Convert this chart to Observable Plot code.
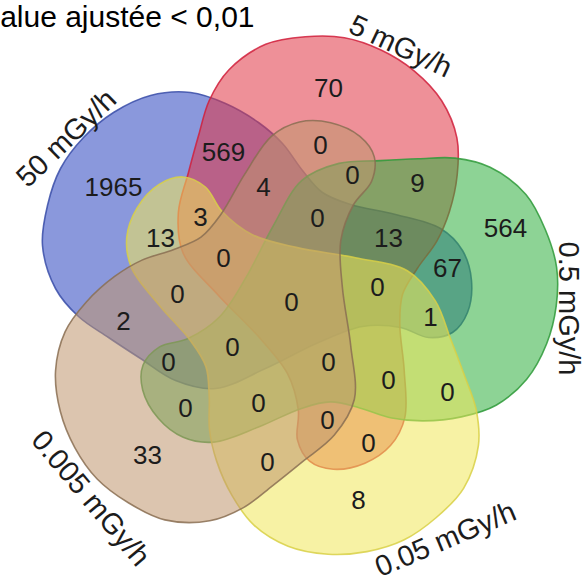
<!DOCTYPE html>
<html><head><meta charset="utf-8">
<script src="https://cdn.jsdelivr.net/npm/d3@7"></script>
<script src="https://cdn.jsdelivr.net/npm/@observablehq/plot@0.6"></script>
<style>body{margin:0;background:#fff;overflow:hidden;}</style>
</head><body><div id="chart"></div>
<script>
// ---- data ----
const title = "alue ajustée < 0,01";
const setNames = ["50 mGy/h", "5 mGy/h", "0.5 mGy/h", "0.05 mGy/h", "0.005 mGy/h"];
const setFills = ["#2a44c0", "#e03444", "#2fae3e", "#f0e85a", "#c0966e"];
const setStrokes = ["#3a4ea8", "#d0203c", "#2f9a3a", "#d8d046", "#8a6e52"];
const setLabelX = [66, 400, 568, 445, 90];
const setLabelY = [138, 46, 308, 539, 498];
const setLabelAngle = [-44, 25, 90, -23, 50];

const counts = [1965, 569, 70, 0, 4, 0, 9, 564, 3, 13, 0, 13, 67, 0, 0, 1, 0, 0, 2, 0, 0, 0, 0, 0, 0, 0, 0, 0, 33, 0, 8];
const countX = [113, 223, 328, 320, 263, 352, 417, 505, 200, 160, 317, 388, 447, 223, 377, 430, 177, 291, 123, 232, 168, 328, 388, 447, 185, 258, 327, 368, 147, 267, 358];
const countY = [187, 152, 88, 145, 187, 175, 183, 228, 217, 238, 218, 238, 268, 258, 287, 317, 294, 302, 321, 347, 362, 362, 380, 392, 408, 403, 420, 443, 455, 462, 500];

// one petal outline (first set); the others are the same outline turned by 72°
const center = [292, 298];
const outline = [[42,245],[47,205],[60,168],[83,137],[113,112],[150,95],[190,92],[225,103],[258,122],[282,143],[302,170],[322,192],[350,204],[395,214],[440,228],[462,250],[471,280],[467,312],[452,332],[428,337],[400,327],[362,326],[318,342],[265,368],[215,388],[175,380],[140,358],[108,337],[78,316],[55,288]];

// ---- build ----
function turned(k) {
  const a = k * 72 * Math.PI / 180, c = Math.cos(a), s = Math.sin(a);
  return outline.map(([x, y]) => {
    const dx = x - center[0], dy = y - center[1];
    return {x: center[0] + dx * c - dy * s, y: center[1] + dx * s + dy * c};
  });
}
const font = "Liberation Sans, Arial, Helvetica, sans-serif";
const shapeMarks = setNames.map((n, i) => Plot.line(turned(i), {
  x: "x", y: "y", curve: "catmull-rom-closed",
  fill: setFills[i], fillOpacity: 0.55,
  stroke: setStrokes[i], strokeWidth: 1.6, strokeOpacity: 0.85
}));
const countData = counts.map((v, i) => ({v, x: countX[i], y: countY[i]}));
const labelData = setNames.map((n, i) => ({n, x: setLabelX[i], y: setLabelY[i], r: setLabelAngle[i]}));

const chart = Plot.plot({
  width: 587, height: 587, margin: 0,
  x: {domain: [0, 587], range: [0, 587], axis: null},
  y: {domain: [0, 587], range: [0, 587], axis: null},
  style: {fontFamily: font, background: "white", overflow: "hidden"},
  marks: [
    ...shapeMarks,
    Plot.text(countData, {x: "x", y: "y", text: d => String(d.v), fontSize: 26, fill: "#1c1c1c"}),
    ...labelData.map(d => Plot.text([d], {x: "x", y: "y", text: "n", rotate: d.r, fontSize: 29, fill: "#1c1c1c"})),
    Plot.text([title], {x: () => 254, y: () => 17, text: d => d, textAnchor: "end", fontSize: 30, fill: "#000"})
  ]
});
document.getElementById("chart").appendChild(chart);
</script>
</body></html>
